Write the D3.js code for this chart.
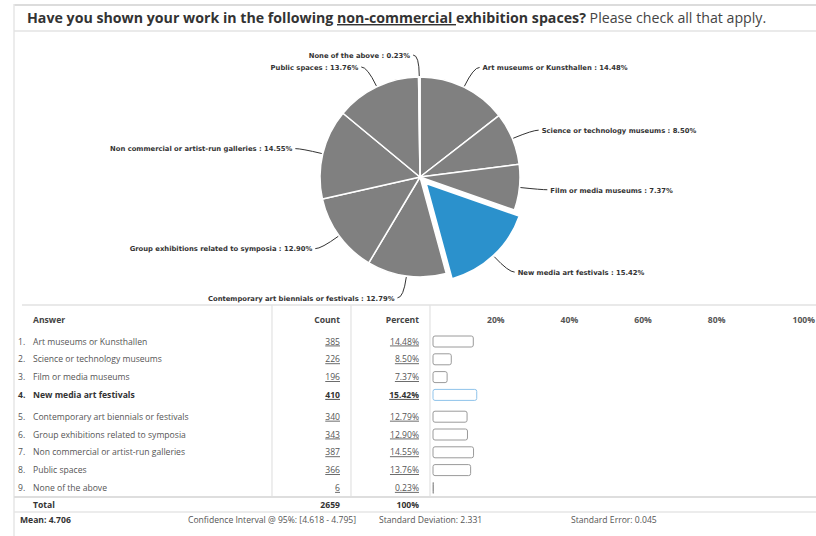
<!DOCTYPE html>
<html>
<head>
<meta charset="utf-8">
<script src="https://cdn.jsdelivr.net/npm/d3@7"></script>
<style>
  html, body { margin: 0; padding: 0; background: #fff; }
  svg { display: block; }
  text { font-family: "Open Sans", "Liberation Sans", sans-serif; }
  text.pie-label { font-family: "DejaVu Sans", sans-serif; }
</style>
</head>
<body>
<svg id="chart" width="816" height="536"></svg>
<script>
// Survey answers (display order in table, clockwise order in pie)
const answers = [
  "Art museums or Kunsthallen",
  "Science or technology museums",
  "Film or media museums",
  "New media art festivals",
  "Contemporary art biennials or festivals",
  "Group exhibitions related to symposia",
  "Non commercial or artist-run galleries",
  "Public spaces",
  "None of the above"
];
const counts   = [385, 226, 196, 410, 340, 343, 387, 366, 6];
const percents = [14.48, 8.50, 7.37, 15.42, 12.79, 12.90, 14.55, 13.76, 0.23];
const highlightedAnswer = "New media art festivals";
const axisTicks = [20, 40, 60, 80, 100];
const totalCount = 2659;
const totalPercent = "100%";
const summaryStats = [
  { label: "Mean: 4.706", bold: true },
  { label: "Confidence Interval @ 95%: [4.618 - 4.795]", bold: false },
  { label: "Standard Deviation: 2.331", bold: false },
  { label: "Standard Error: 0.045", bold: false }
];

const rows = answers.map((a, i) => ({
  answer: a, count: counts[i], percent: percents[i], idx: i,
  hl: a === highlightedAnswer
}));

const svg = d3.select("#chart");
const W = 816, H = 536;

// ---------- frame + title ----------
const frameColor = "#dcdcdc";
svg.append("line").attr("x1", 14).attr("x2", W).attr("y1", 5).attr("y2", 5)
  .attr("stroke", frameColor).attr("stroke-width", 2);
svg.append("line").attr("x1", 14).attr("x2", 14).attr("y1", 4).attr("y2", H)
  .attr("stroke", "#e6e6e6").attr("stroke-width", 1.5);
svg.append("line").attr("x1", 14).attr("x2", W).attr("y1", 31).attr("y2", 31)
  .attr("stroke", "#e3e3e3").attr("stroke-width", 1.5);

const title = svg.append("text").attr("x", 27).attr("y", 23)
  .attr("font-size", 14.2).attr("fill", "#333");
title.append("tspan").attr("font-weight", 700).text("Have you shown your work in the following ");
title.append("tspan").attr("font-weight", 700).style("text-decoration", "underline").text("non-commercial ");
title.append("tspan").attr("font-weight", 700).text("exhibition spaces?");
title.append("tspan").attr("font-weight", 400).attr("fill", "#444").text(" Please check all that apply.");

// ---------- pie ----------
const cx = 420, cy = 177, R = 100, explode = 8;
const pie = d3.pie().sort(null).value(d => d.percent)
  .startAngle(0).endAngle(2 * Math.PI);
const arcGen = d3.arc().innerRadius(0).outerRadius(R);
const arcs = pie(rows);

const pieG = svg.append("g").attr("transform", `translate(${cx},${cy})`);
const polar = (ang, r) => [Math.sin(ang) * r, -Math.cos(ang) * r];

pieG.selectAll("path.slice").data(arcs).join("path")
  .attr("class", "slice")
  .attr("d", arcGen)
  .attr("transform", d => {
    if (!d.data.hl) return null;
    const [ox, oy] = polar((d.startAngle + d.endAngle) / 2, explode);
    return `translate(${ox},${oy})`;
  })
  .attr("fill", d => d.data.hl ? "#2b91cc" : "#808080")
  .attr("stroke", "#fff")
  .attr("stroke-width", d => d.data.hl ? 2.5 : 1.5)
  .attr("stroke-linejoin", "round");

// Data labels with curved connectors
const labelG = pieG.append("g");
arcs.forEach(d => {
  const mid = (d.startAngle + d.endAngle) / 2;
  const [ox, oy] = d.data.hl ? polar(mid, explode) : [0, 0];
  const right = Math.sin(mid) > 0.001;
  const side = right ? 1 : -1;
  const [sx, sy] = polar(mid, R + 1);
  const [ax, ay] = polar(mid, R + 22);
  const p0 = [sx + ox, sy + oy];
  const pa = [ax + ox, ay + oy];
  const p1 = [pa[0] + side * 6, pa[1]];
  labelG.append("path")
    .attr("d", `M${p0[0]},${p0[1]} Q${pa[0]},${pa[1]} ${p1[0]},${p1[1]}`)
    .attr("fill", "none").attr("stroke", "#333").attr("stroke-width", 1);
  labelG.append("text")
    .attr("class", "pie-label")
    .attr("x", pa[0] + side * 9).attr("y", pa[1] + 2.8)
    .attr("text-anchor", right ? "start" : "end")
    .attr("font-size", 6.8).attr("font-weight", 700).attr("fill", "#333")
    .text(`${d.data.answer} : ${d.data.percent.toFixed(2)}%`);
});

// ---------- table ----------
const colSep = [272, 351, 430];
const headerY = 305, headerTextY = 320;
const rowStep = 17.8, firstRowY = 341.5, groupGap = 4;
const rowY = i => firstRowY + i * rowStep + (i >= 4 ? groupGap : 0);
const totalLineY = 497, totalY = 505, statsLineY = 512, statsY = 520;

const lineColor = "#e2e2e2";
svg.append("line").attr("x1", 22).attr("x2", W).attr("y1", headerY).attr("y2", headerY)
  .attr("stroke", lineColor).attr("stroke-width", 1.5);
colSep.forEach(x => {
  svg.append("line").attr("x1", x).attr("x2", x).attr("y1", headerY).attr("y2", totalLineY)
    .attr("stroke", lineColor).attr("stroke-width", 1.2);
});
svg.append("line").attr("x1", 14).attr("x2", W).attr("y1", totalLineY).attr("y2", totalLineY)
  .attr("stroke", "#dedede").attr("stroke-width", 2);
svg.append("line").attr("x1", 14).attr("x2", W).attr("y1", statsLineY).attr("y2", statsLineY)
  .attr("stroke", "#e6e6e6").attr("stroke-width", 1.5);

const tFont = 8.6;
const hdr = (x, anchor, txt) => svg.append("text").attr("x", x).attr("y", headerTextY + 3)
  .attr("text-anchor", anchor).attr("font-size", tFont).attr("font-weight", 700)
  .attr("fill", "#444").text(txt);
hdr(33, "start", "Answer");
hdr(340, "end", "Count");
hdr(419, "end", "Percent");

// Bar scale and axis labels
const x = d3.scaleLinear().domain([0, 100]).range([433, 801]);
const barInset = 13;
axisTicks.forEach((t, i) => {
  const last = i === axisTicks.length - 1;
  svg.append("text")
    .attr("x", last ? W - 1 : x(t) - 2)
    .attr("y", headerTextY + 3)
    .attr("text-anchor", "end")
    .attr("font-size", tFont).attr("font-weight", 700).attr("fill", "#555")
    .text(t + "%");
});

const rowG = svg.selectAll("g.row").data(rows).join("g").attr("class", "row")
  .attr("transform", d => `translate(0,${rowY(d.idx)})`);
rowG.append("text").attr("x", 18).attr("y", 3)
  .attr("font-size", tFont).attr("fill", d => d.hl ? "#333" : "#555")
  .attr("font-weight", d => d.hl ? 700 : 400)
  .text(d => (d.idx + 1) + ".");
rowG.append("text").attr("x", 33).attr("y", 3)
  .attr("font-size", tFont).attr("fill", d => d.hl ? "#333" : "#555")
  .attr("font-weight", d => d.hl ? 700 : 400)
  .text(d => d.answer);
rowG.append("text").attr("x", 340).attr("y", 3).attr("text-anchor", "end")
  .attr("font-size", tFont).attr("fill", d => d.hl ? "#333" : "#555")
  .attr("font-weight", d => d.hl ? 700 : 400)
  .style("text-decoration", "underline")
  .text(d => d.count);
rowG.append("text").attr("x", 419).attr("y", 3).attr("text-anchor", "end")
  .attr("font-size", tFont).attr("fill", d => d.hl ? "#333" : "#555")
  .attr("font-weight", d => d.hl ? 700 : 400)
  .style("text-decoration", "underline")
  .text(d => d.percent.toFixed(2) + "%");
rowG.append("rect")
  .attr("x", x(0)).attr("y", -5.5)
  .attr("width", d => Math.max(0.5, x(d.percent) - x(0) - barInset))
  .attr("height", 11).attr("rx", 2)
  .attr("fill", "#fff")
  .attr("stroke", d => d.hl ? "#8fc3ea" : "#9a9a9a")
  .attr("stroke-width", 1);

// Totals
const tot = (xp, anchor, txt) => svg.append("text").attr("x", xp).attr("y", totalY + 3)
  .attr("text-anchor", anchor).attr("font-size", tFont).attr("font-weight", 700)
  .attr("fill", "#333").text(txt);
tot(33, "start", "Total");
tot(340, "end", totalCount);
tot(419, "end", totalPercent);

// Summary statistics
const statX = [20, 188, 379, 571];
summaryStats.forEach((s, i) => {
  svg.append("text").attr("x", statX[i]).attr("y", statsY + 3)
    .attr("font-size", tFont).attr("font-weight", s.bold ? 700 : 400)
    .attr("fill", s.bold ? "#333" : "#555").text(s.label);
});
</script>
</body>
</html>
